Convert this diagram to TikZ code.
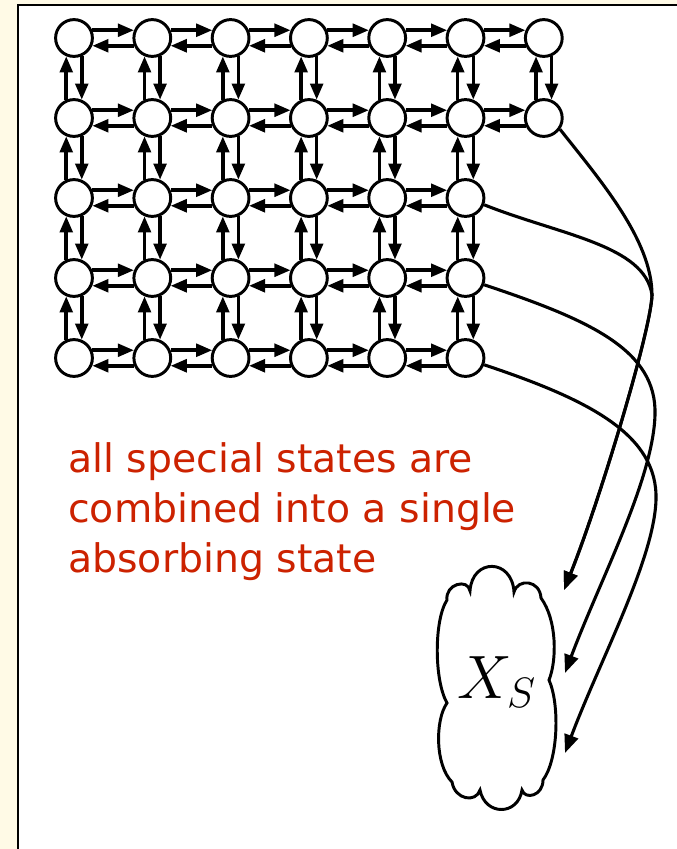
\documentclass[tikz,border=0pt]{standalone}
\usepackage{graphicx}
\usepackage{fontspec}
\usetikzlibrary{arrows.meta}
\newfontfamily\notefont{DejaVu Sans}
\definecolor{notered}{RGB}{204,34,0}
\definecolor{pagecream}{RGB}{255,250,230}

\begin{document}
\begin{tikzpicture}[x=0.025cm,y=-0.025cm,
 state/.style={circle,draw,line width=2.1pt,minimum size=0.92cm,inner sep=0pt},
 move/.style={line width=2.5pt,-{Triangle[length=11.5pt,width=9pt]}},
 lump/.style={line width=2.2pt,-{Triangle[length=13pt,width=10pt]}},
 puff/.style={line width=2.1pt},
 note/.style={align=left,text=notered,inner sep=0pt,font=\notefont\fontsize{28}{35.5}\selectfont}]
\useasboundingbox (0,0) rectangle (677,849);
\fill[pagecream] (0,0) rectangle (677,849);
\draw[fill=white,line width=1.7pt] (18,5) rectangle (700,870);
% states
\foreach \r/\last in {0/6,1/6,2/5,3/5,4/5}
  \foreach \c in {0,...,\last}
    \node[state] (n\r\c) at ({74+78.3*\c},{38+80*\r}) {};
% moves along a row
\foreach \r/\prev in {0/5,1/5,2/4,3/4,4/4}
  \foreach \c in {0,...,\prev}{
    \pgfmathtruncatemacro\nx{\c+1}
    \draw[move] (n\r\c.23) -- (n\r\nx.157);
    \draw[move] (n\r\nx.203) -- (n\r\c.337);
  }
% moves along a column
\foreach \r/\s/\last in {0/1/6,1/2/5,2/3/5,3/4/5}
  \foreach \c in {0,...,\last}{
    \draw[move] (n\s\c.113) -- (n\r\c.247);
    \draw[move] (n\r\c.293) -- (n\s\c.67);
  }
\node[note,anchor=base west] (txt) at (68,572) {all special states are\\combined into a single\\absorbing state};
% absorbing state
\node (xs) at (497,682) {\scalebox{2.1}{\huge$X_S$}};
\draw[puff] (447,600) .. controls (445,584) and (468,578) .. (470,591)
  .. controls (472,558) and (512,558) .. (514,592)
  .. controls (518,578) and (540,580) .. (541,598)
  .. controls (557,620) and (557,660) .. (549,680)
  .. controls (560,705) and (558,760) .. (543,780)
  .. controls (543,796) and (525,800) .. (522,790)
  .. controls (518,816) and (485,816) .. (480,790)
  .. controls (476,803) and (455,800) .. (452,782)
  .. controls (435,765) and (435,720) .. (447,703)
  .. controls (434,680) and (434,620) .. cycle;
\coordinate (merge) at (652,295);
\coordinate (tipA) at (564,590);
\coordinate (tipC) at (565,673);
\coordinate (tipD) at (565,753);
% special states into X_S
\draw[lump] (n16.-35) .. controls (600,180) and (652,240) .. (merge) .. controls (651,330) and (600,500) .. (tipA);
\draw[lump] (n25.-20) .. controls (560,235) and (645,245) .. (merge) .. controls (651,330) and (600,500) .. (tipA);
\draw[lump] (n35.-20) .. controls (590,320) and (657,350) .. (655,415) .. controls (653,480) and (600,580) .. (tipC);
\draw[lump] (n45.-20) .. controls (590,400) and (658,435) .. (656,500) .. controls (654,560) and (600,660) .. (tipD);
\end{tikzpicture}
\end{document}
